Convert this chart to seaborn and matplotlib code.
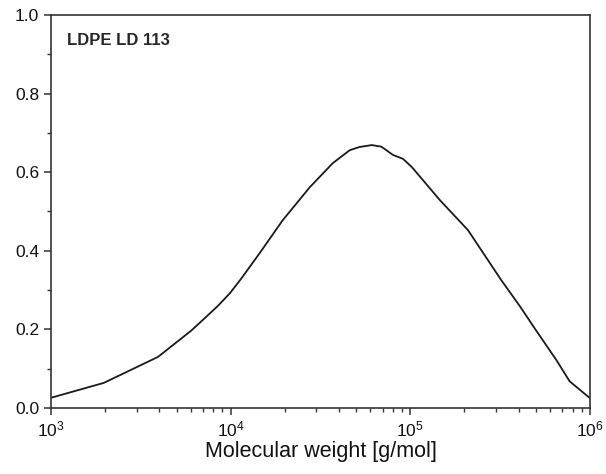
import numpy as np
import pandas as pd
import matplotlib
matplotlib.use("Agg")
import matplotlib.pyplot as plt
import seaborn as sns
from matplotlib.ticker import LogLocator, MultipleLocator

mw = [1.0e3, 1.97e3, 3.94e3, 6.0e3, 7.0e3, 8.5e3, 9.9e3, 1.14e4, 1.46e4, 1.95e4,
      2.76e4, 3.7e4, 4.6e4, 5.2e4, 6.1e4, 6.9e4, 8.0e4, 9.1e4, 1.02e5, 1.46e5,
      2.09e5, 3.2e5, 4.1e5, 5.0e5, 6.5e5, 7.7e5, 8.8e5, 1.0e6]
w = [0.026, 0.064, 0.130, 0.196, 0.224, 0.260, 0.292, 0.328, 0.396, 0.478,
     0.562, 0.623, 0.656, 0.664, 0.669, 0.665, 0.644, 0.634, 0.613, 0.529,
     0.453, 0.326, 0.257, 0.198, 0.122, 0.068, 0.046, 0.025]
label = "LDPE LD 113"

sns.set_style("ticks")
plt.rcParams['font.family'] = ['Liberation Sans', 'DejaVu Sans']
plt.rcParams['mathtext.fontset'] = 'custom'
plt.rcParams['mathtext.rm'] = 'Liberation Sans'
plt.rcParams['mathtext.it'] = 'Liberation Sans'

df = pd.DataFrame({"mw": mw, "w": w})
fig = plt.figure(figsize=(6.06, 4.74), dpi=100)
ax = fig.add_axes([51/606, 1-408/474, (590-51)/606, (408-15)/474])
sns.lineplot(data=df, x="mw", y="w", ax=ax, color="#1a1a1a", lw=1.3)
ax.set_xscale("log")
ax.set_xlim(1e3, 1e6)
ax.set_ylim(0, 1.0)
ax.yaxis.set_major_locator(MultipleLocator(0.2))
ax.yaxis.set_minor_locator(MultipleLocator(0.1))
ax.xaxis.set_major_locator(LogLocator(base=10, numticks=10))
ax.xaxis.set_minor_locator(LogLocator(base=10, subs=np.arange(2, 10), numticks=10))
ax.yaxis.set_major_formatter(matplotlib.ticker.FormatStrFormatter("%.1f"))
for s in ax.spines.values():
    s.set_linewidth(1.2)
    s.set_color("#333333")
ax.tick_params(axis="both", which="major", length=5, width=1.1, labelsize=12.5, colors="#333333", labelcolor="#111111")
ax.tick_params(axis="both", which="minor", length=3, width=1.0, colors="#333333")
ax.set_xlabel("Molecular weight [g/mol]", fontsize=15.5, labelpad=1, color="#111111")
ax.set_ylabel("")
ax.text(0.03, 0.935, label, transform=ax.transAxes, fontsize=12, fontweight="bold", va="center", ha="left")
fig.savefig("out.png", dpi=100)
